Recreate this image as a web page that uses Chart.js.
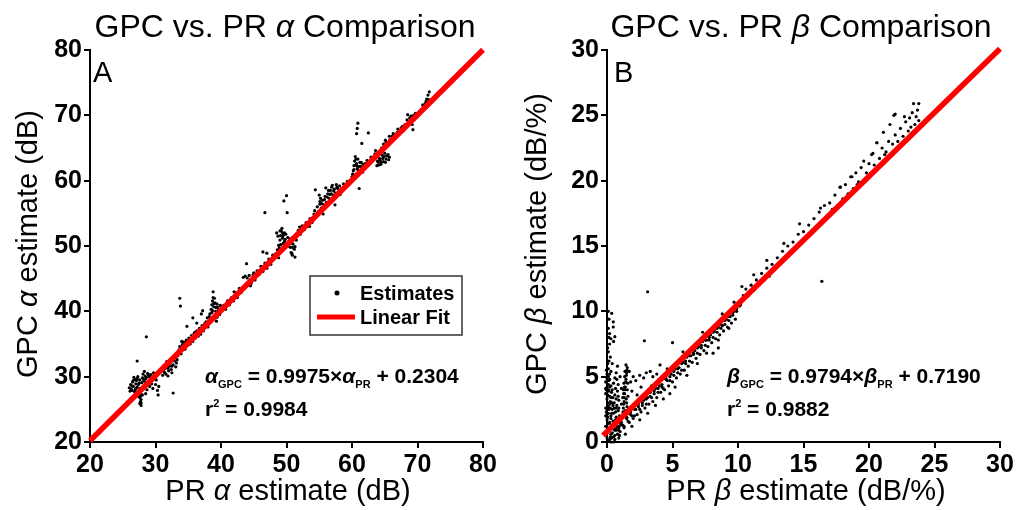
<!DOCTYPE html>
<html>
<head>
<meta charset="utf-8">
<script src="https://cdn.jsdelivr.net/npm/chart.js@4.4.1/dist/chart.umd.min.js"></script>
<style>
  html, body { margin: 0; padding: 0; background: #fff; }
  .panel { position: absolute; top: 0; height: 510px; }
  #panelA { left: 0; width: 509px; }
  #panelB { left: 509px; width: 510px; }
</style>
</head>
<body>
<div class="panel" id="panelA"><canvas id="chartA" width="509" height="510"></canvas></div>
<div class="panel" id="panelB"><canvas id="chartB" width="510" height="510"></canvas></div>
<script>
// Panel A : estimations alpha (PR en x, GPC en y)
const alphaPoints = [
  [26.0,28.3],[26.2,28.8],[26.3,28.1],[26.5,29.2],[26.6,28.5],[26.8,29.6],[26.9,28.0],[27.0,28.9],[27.1,29.4],[27.2,28.4],
  [27.3,30.0],[27.4,27.6],[27.5,29.0],[27.6,28.2],[27.6,26.8],[27.7,26.2],[27.8,25.6],[27.5,27.2],[27.9,27.9],[28.0,29.8],
  [28.1,30.4],[28.2,28.6],[28.3,29.3],[28.4,30.1],[28.5,27.4],[28.6,29.9],[28.7,28.9],[28.8,30.5],[28.9,29.2],[29.0,30.0],
  [29.1,28.5],[29.2,29.6],[29.3,30.3],[29.4,28.9],[29.5,29.4],[29.6,28.2],[29.8,29.7],[29.9,30.2],[30.0,28.8],[30.1,29.5],
  [30.3,27.9],[30.4,27.2],[30.5,28.5],[27.2,32.4],[26.4,27.9],[27.0,27.4],[27.8,26.5],[28.0,28.4],[26.7,29.9],[28.3,30.8],
  [29.7,30.6],[26.1,27.8],[26.4,28.6],[26.6,29.4],[26.8,27.7],[27.0,28.2],[27.2,29.7],[27.3,27.0],[27.4,28.8],[27.6,29.5],
  [27.7,27.4],[27.9,29.1],[28.1,28.1],[28.2,29.5],[28.4,28.8],[28.5,29.7],[28.7,28.0],[28.9,30.3],[29.0,29.0],[29.2,30.0],
  [29.4,29.6],[27.6,25.9],[27.7,27.0],[27.8,26.0],[28.0,27.2],
  [31.1,30.2],[31.3,30.8],[31.5,31.3],[31.6,30.4],[31.8,31.9],[32.0,30.9],[32.1,31.6],[32.3,32.3],[32.4,31.1],[32.6,32.7],
  [32.7,31.8],[32.9,32.4],[33.0,33.0],[33.2,32.1],[33.4,33.2],[31.9,30.1],[32.5,30.6],[33.1,31.5],[32.7,27.5],[31.2,31.6],
  [31.7,32.3],[31.4,30.6],[31.9,31.3],[32.2,32.0],[32.5,31.6],[32.8,33.0],[33.3,32.6],[31.6,31.6],[32.0,31.9],
  [33.5,33.9],[33.7,34.6],[33.9,33.5],[34.1,34.9],[34.3,35.3],[34.5,34.2],[34.7,35.6],[34.9,34.8],[35.1,35.9],[35.3,35.0],
  [35.5,36.3],[35.7,35.4],[35.9,36.6],[36.1,35.9],[36.3,37.0],[36.5,36.2],[36.7,37.4],[36.9,36.5],[37.1,37.8],[37.3,37.0],
  [37.5,38.1],[34.0,35.4],[35.0,35.5],[36.0,36.8],[34.8,37.7],[35.7,39.0],[36.3,38.2],[33.7,42.0],[33.8,40.8],[28.6,36.1],
  [33.6,34.1],[34.2,34.5],[34.6,35.2],[35.2,35.7],[35.6,35.9],[36.2,36.5],[36.8,37.1],
  [37.7,38.4],[37.9,39.0],[38.1,38.1],[38.3,39.6],[38.5,40.3],[38.6,41.0],[38.7,41.6],[38.8,42.1],[38.9,40.7],[39.0,39.4],
  [39.1,41.3],[39.2,40.0],[39.4,39.1],[39.5,40.6],[39.7,39.8],[39.9,40.9],[40.1,40.3],[38.4,38.6],[38.8,43.0],[37.0,39.6],
  [37.2,40.1],[39.3,38.5],[38.0,37.6],[38.2,39.2],[38.5,38.9],[38.7,40.1],[38.9,41.2],[39.0,42.0],[39.2,40.6],[39.4,41.1],
  [39.6,40.2],[39.8,39.5],[38.6,39.8],
  [40.4,40.9],[40.7,40.3],[41.0,41.6],[41.3,41.0],[41.6,42.1],[41.9,41.6],[42.2,42.8],[42.5,42.1],[42.8,43.5],[43.1,42.9],
  [43.4,45.2],[43.7,45.4],[44.0,45.1],[44.3,45.5],[44.6,44.3],[44.9,45.6],[45.2,44.8],[45.5,46.2],[45.8,45.6],[46.1,46.9],
  [46.4,46.1],[46.7,47.4],[47.0,46.6],[47.3,48.0],[47.6,47.2],[47.9,48.6],[43.9,47.3],[46.4,49.1],[47.0,48.9],[46.7,55.1],
  [42.0,43.0],[44.5,43.9],[45.0,45.9],
  [48.3,48.8],[48.5,52.0],[48.6,49.4],[48.8,50.1],[49.0,50.9],[49.1,51.6],[49.2,52.3],[49.3,52.7],[49.4,51.2],[49.5,50.4],
  [49.6,49.6],[49.7,52.0],[49.8,51.0],[50.0,50.3],[50.2,51.3],[50.4,50.7],[50.6,49.8],[50.7,49.0],[50.8,51.2],[50.9,48.6],
  [51.0,50.3],[51.2,49.5],[51.3,48.3],[51.5,50.9],[49.6,56.9],[50.0,57.7],[50.1,55.1],[48.8,48.2],[48.7,51.5],[48.9,49.7],
  [49.1,50.2],[49.2,49.4],[49.4,52.0],[49.5,51.6],[49.7,50.7],[49.9,51.8],[50.1,49.9],[50.3,50.0],[50.5,51.1],[50.7,50.4],
  [50.9,49.8],[51.1,51.0],[51.3,49.9],[51.4,51.5],[49.0,52.3],[50.8,48.9],
  [51.8,52.4],[52.1,51.8],[52.4,53.1],[52.7,52.5],[53.0,53.6],[53.3,53.1],[53.6,54.2],[53.9,53.6],[54.2,54.9],[52.0,52.9],
  [53.5,53.0],
  [54.3,55.4],[54.5,54.6],[54.7,56.0],[54.9,55.3],[55.1,56.4],[55.3,55.8],[55.5,57.0],[55.7,56.3],[55.9,57.6],[56.1,56.7],
  [56.3,58.0],[56.5,57.3],[56.7,58.5],[56.9,59.0],[57.0,59.3],[57.1,57.8],[57.3,58.7],[57.5,58.1],[57.7,59.0],[57.9,58.3],
  [58.1,59.2],[57.4,56.3],[54.4,58.6],[55.0,57.8],[55.1,56.8],[56.0,58.9],[55.6,54.9],[55.8,57.1],[56.2,57.5],[56.4,58.5],
  [56.6,57.9],[56.8,58.0],[57.2,58.4],[57.6,59.4],[57.8,58.8],[55.4,56.5],[55.2,57.3],
  [58.4,58.8],[58.7,59.5],[59.0,59.0],[59.3,59.9],[59.6,59.5],[58.2,57.9],
  [60.0,60.6],[60.2,61.5],[60.3,62.3],[60.4,63.0],[60.5,63.7],[60.6,61.0],[60.7,62.6],[60.8,61.8],[60.9,63.3],[61.0,60.9],
  [61.1,62.2],[61.2,61.5],[61.4,62.8],[61.5,61.9],[61.7,62.5],[60.9,68.8],[60.8,68.0],[60.7,67.2],[62.5,67.3],[61.5,65.7],
  [61.1,58.8],[60.1,61.0],[60.3,61.7],[60.5,62.4],[60.6,63.3],[60.8,62.2],[61.0,61.6],[61.2,62.8],[61.3,62.2],[61.6,61.3],
  [60.4,60.8],
  [62.0,62.6],[62.3,63.1],[62.6,62.9],[62.9,63.6],[63.2,63.2],[63.5,64.1],[63.8,62.3],[64.0,62.8],[64.2,63.4],[64.4,62.5],
  [64.6,63.9],[64.8,62.9],[65.0,64.2],[65.2,63.3],[65.5,64.0],[65.7,63.6],[64.8,65.6],[65.1,66.2],[65.4,65.4],[65.7,66.8],
  [66.0,66.1],[66.3,67.2],[66.6,66.6],[66.9,67.4],[64.5,65.0],[63.6,64.6],[63.9,63.0],[64.1,62.4],[64.3,63.1],[64.5,62.8],
  [64.7,63.4],[64.9,63.7],[65.1,62.8],[65.3,63.8],[65.6,63.2],[63.7,63.6],[65.2,65.9],[65.8,66.3],[66.1,66.8],
  [67.2,67.5],[67.5,68.1],[67.8,67.6],[68.1,68.6],[68.4,69.3],[68.7,68.9],[69.0,69.9],[69.3,67.8],[69.5,69.4],[69.7,70.3],
  [70.0,69.8],[70.3,70.6],[70.6,70.9],[70.9,71.3],[71.2,71.8],[71.4,72.5],[71.6,73.1],[71.8,73.6],[71.5,71.3],[68.5,70.1],
  [69.2,68.6],[67.0,67.9],[67.7,68.3],[68.2,68.2],[68.8,69.6],[69.4,70.0],[70.2,70.2],[70.8,71.6],[71.3,72.1],[71.7,72.4]
];
const alphaFit = [[20, 20.18], [80, 80.03]];

// Panel B : estimations beta
const betaPoints = [
  [-0.3,0.6],[-0.2,0.5],[-0.1,1.2],[0.0,0.3],[0.1,0.9],[0.2,1.5],[0.3,0.6],[0.4,1.1],[-0.2,1.9],[-0.1,2.6],
  [0.0,1.7],[0.1,2.2],[0.2,2.9],[0.3,2.0],[0.4,2.5],[-0.2,3.1],[-0.1,3.7],[0.0,3.3],[0.1,4.0],[0.2,3.5],
  [0.3,4.3],[0.4,3.0],[-0.1,4.6],[0.0,4.9],[0.1,4.4],[0.2,4.8],[0.0,2.1],[0.1,1.4],[0.2,0.2],[0.3,1.8],
  [0.35,3.8],[-0.15,0.9],[-0.05,2.3],[0.05,3.0],[0.15,3.9],[0.25,2.6],[0.35,1.3],[0.0,0.8],[0.1,2.7],[0.2,4.2],
  [0.3,3.4],[-0.1,4.1],[0.0,5.2],[0.1,5.0],[0.05,0.1],[0.25,0.4],[0.4,0.7],[0.45,1.6],[0.5,2.2],[0.5,0.4],
  [0.55,1.0],[-0.3,2.4],[-0.3,3.6],[-0.25,1.4],[0.3,0.0],[0.6,0.2],[0.5,0.0],
  [-0.25,0.2],[-0.2,1.0],[-0.15,1.6],[-0.1,2.0],[-0.25,2.8],[-0.2,3.3],[-0.15,4.3],[-0.05,4.0],[0.05,1.9],[0.15,2.5],
  [0.25,3.1],[0.35,2.2],[0.45,2.8],[0.05,3.6],[0.15,4.7],[0.25,1.0],[0.35,0.3],[0.45,3.4],[0.55,2.6],[0.65,1.7],
  [0.7,2.6],[0.75,1.2],[0.85,3.5],[0.95,0.5],[0.4,4.0],[0.6,4.9],[-0.05,5.5],[0.05,6.0],
  [0.6,0.5],[0.6,1.4],[0.65,2.3],[0.7,0.9],[0.7,1.9],[0.75,2.8],[0.8,0.6],[0.8,1.5],[0.85,2.4],[0.9,1.1],
  [0.9,3.2],[0.95,2.0],[1.0,0.8],[1.0,1.7],[0.55,3.0],[0.6,3.6],[0.65,4.1],[0.7,3.3],[0.8,3.9],[0.85,4.4],
  [0.75,4.8],[0.5,4.5],[0.9,2.6],[1.05,1.3],
  [1.2,2.0],[1.25,2.6],[1.3,3.1],[1.35,3.7],[1.4,4.2],[1.45,4.8],[1.5,5.3],[1.55,5.7],[1.2,3.4],[1.3,4.5],
  [1.4,2.4],[1.5,3.0],[1.55,4.0],[1.45,5.9],[1.35,5.0],[1.25,4.0],[1.6,2.2],[1.6,3.5],[1.1,2.9],[1.5,1.9],
  [1.22,2.3],[1.28,2.9],[1.32,3.4],[1.38,4.0],[1.42,4.6],[1.48,5.1],[1.52,5.5],[1.27,3.7],[1.33,4.2],[1.47,3.3],
  [1.53,2.7],[1.58,4.5],[1.43,2.1],[1.37,5.4],
  [0.1,5.6],[0.15,6.2],[0.1,6.9],[0.2,7.5],[0.15,8.0],[0.2,8.3],[0.1,8.7],[0.15,9.4],[0.1,10.0],[0.36,9.85],
  [0.48,9.2],[0.48,8.8],[0.6,8.06],[0.5,7.7],[0.3,5.4],[0.25,6.5],[0.05,7.2],[0.3,7.9],[0.4,6.0],[0.2,5.2],
  [0.7,5.3],[1.0,5.0],[1.8,4.6],[2.0,5.0],[2.2,4.7],[2.5,5.1],[2.8,4.9],[3.0,5.3],[3.3,5.4],[3.5,5.0],
  [3.8,5.2],[4.05,5.9],[2.3,3.6],[1.9,3.9],[2.6,4.2],[1.7,5.4],[3.1,11.5],[2.85,7.75],[5.0,7.6],[8.1,6.8],
  [8.5,7.2],[9.3,8.7],[4.8,3.7],[0.8,5.8],[1.1,4.1],
  [0.6,0.9],[0.9,1.2],[1.1,1.5],[1.3,1.1],[1.5,1.8],[1.7,1.5],[1.8,2.1],[2.0,1.8],[2.1,2.5],[2.3,2.1],
  [2.4,2.7],[2.6,2.3],[2.7,3.0],[2.9,2.6],[3.0,3.3],[3.2,2.9],[3.3,3.5],[3.5,3.1],[3.6,3.9],[3.8,3.4],
  [3.9,4.1],[4.1,3.8],[4.2,4.4],[4.4,4.0],[4.5,4.8],[4.7,4.3],[4.8,5.0],[5.0,4.6],[5.1,5.4],[5.3,4.9],
  [5.4,5.6],[5.6,5.2],[5.7,6.0],[5.9,5.5],[6.0,6.2],[6.2,5.8],[6.3,6.6],[6.5,6.1],[6.6,6.8],[6.8,6.4],
  [6.9,7.2],[7.1,6.7],[7.2,7.4],[7.4,7.0],[7.5,7.8],[7.7,7.3],[7.8,8.0],[8.0,7.6],[8.1,8.4],[8.3,7.9],
  [8.4,8.7],[8.6,8.2],[8.7,9.0],[8.9,8.5],[9.0,9.3],[9.2,8.8],[9.3,9.6],[9.5,9.1],[9.6,9.9],[9.8,9.4],
  [9.9,10.2],
  [0.7,1.0],[0.9,0.9],[1.0,1.5],[1.2,1.3],[1.3,1.2],[1.5,1.9],[1.6,1.6],[1.8,2.3],[1.9,2.0],[2.1,2.0],
  [2.2,2.5],[2.4,2.9],[2.5,2.5],[2.7,2.8],[2.8,3.2],[3.0,2.9],[3.1,3.4],[3.3,3.8],[3.4,3.4],[3.6,3.7],
  [3.7,4.1],[3.9,3.8],[4.0,4.3],[4.2,4.2],[4.3,4.1],[4.5,4.9],[4.6,4.7],[4.8,4.7],[4.9,5.2],[5.1,5.1],
  [5.2,5.6],[5.4,5.3],[5.5,5.7],[5.7,5.5],[5.8,6.1],[6.0,6.0],[6.1,6.5],[6.3,6.2],[6.4,6.6],[6.6,6.7],
  [6.7,7.0],[6.9,6.8],[7.0,7.3],[7.2,7.2],[7.3,7.7],[7.5,7.4],[7.6,7.8],[7.8,7.8],[7.9,8.2],[8.1,8.0],
  [8.2,8.5],[8.4,8.4],[8.5,8.8],[8.7,8.7],[8.8,8.9],[9.0,9.0],[9.1,9.4],[9.3,9.3],[9.4,9.6],[9.6,9.7],
  [9.7,10.0],[9.9,10.0],[10.1,10.4],
  [1.9,1.2],[2.5,1.7],[3.1,2.2],[3.7,2.8],[4.3,3.3],[5.2,4.2],[6.1,5.1],[6.9,6.0],[7.6,6.8],[8.5,7.8],
  [2.2,3.0],[3.4,4.3],[4.6,5.6],[5.8,6.9],[7.3,8.4],[8.8,9.8],[9.7,10.7],[0.9,0.3],[1.4,0.6],[1.2,1.9],
  [10.2,10.5],[10.4,11.2],[10.6,11.7],[10.8,11.2],[11.0,12.0],[11.2,11.6],[11.4,12.4],[11.6,12.0],[11.8,12.9],[12.0,12.4],
  [12.2,13.3],[12.4,12.7],[12.6,13.6],[12.8,13.2],[13.0,14.1],[13.2,13.6],[13.4,14.6],[13.6,14.0],[13.8,15.0],[14.0,14.5],
  [14.2,15.3],[14.4,14.9],[14.6,15.9],[14.8,15.3],[15.0,16.1],[15.2,15.7],[15.4,16.6],[15.6,16.1],[15.8,17.1],[16.0,16.5],
  [16.2,17.6],[16.4,16.9],[16.6,18.1],[16.8,17.3],[17.0,18.3],[17.2,17.8],[17.4,18.9],[17.6,18.1],[17.8,19.5],[18.0,18.6],
  [18.2,19.7],[18.4,19.0],[18.6,20.3],[18.8,19.4],[19.0,20.6],[19.2,19.9],[19.4,21.0],[19.6,21.5],[19.8,20.6],[20.0,21.3],
  [20.2,22.0],[20.4,21.2],[20.6,22.9],[20.8,21.7],[21.0,22.5],[21.1,23.7],[21.3,22.2],[21.5,23.0],[21.6,24.3],[21.8,22.8],
  [21.9,25.0],[22.0,23.5],[22.2,23.0],[22.4,24.0],[22.6,23.4],[22.8,24.5],[23.0,23.8],[23.1,24.8],[23.3,25.2],[23.4,25.9],
  [23.5,24.3],[23.6,24.9],[23.7,25.4],[23.8,24.6],[22.0,25.1],[16.4,12.3],[10.3,11.9],[11.2,12.8],[12.2,13.9],[13.5,15.2],
  [14.7,16.7],[16.3,17.9],[17.8,19.5],[18.7,20.3],[20.3,22.1],[20.6,22.9],[23.8,25.9],[22.7,24.9],[23.2,24.1],[21.2,22.0],
  [19.1,19.7],[15.1,15.6],[12.9,13.4]
];
const betaFit = [[-0.3, 0.5], [30, 30.1]];

const FONT = '"Liberation Sans", Arial, Helvetica, sans-serif';

// Dessine une suite de morceaux de texte (italique, indice, exposant)
function drawRuns(ctx, x, y, runs, align) {
    let total = 0;
    runs.forEach(r => {
        ctx.font = r.f + ' ' + FONT;
        r.w = ctx.measureText(r.t).width;
        total += r.w;
    });
    let cx = align === 'center' ? x - total / 2 : x;
    ctx.textAlign = 'left';
    ctx.textBaseline = 'alphabetic';
    ctx.fillStyle = '#000';
    runs.forEach(r => {
        ctx.font = r.f + ' ' + FONT;
        ctx.fillText(r.t, cx, y + (r.dy || 0));
        cx += r.w;
    });
}

function textPlugin(cfg) {
    return {
        id: 'texts',
        afterDraw(chart) {
            const ctx = chart.ctx;
            ctx.save();
            drawRuns(ctx, cfg.titleX, 37, cfg.title, 'center');
            drawRuns(ctx, cfg.letterX, 82, [{ t: cfg.letter, f: '29px' }], 'left');
            drawRuns(ctx, cfg.xTitleX, 500, cfg.xTitle, 'center');
            ctx.save();
            ctx.translate(37, 244);
            ctx.rotate(-Math.PI / 2);
            drawRuns(ctx, 0, 0, cfg.yTitle, 'center');
            ctx.restore();
            drawRuns(ctx, cfg.eqX, 383, cfg.eq, 'left');
            drawRuns(ctx, cfg.eqX, 416, cfg.r2, 'left');
            if (cfg.legend) {
                ctx.strokeStyle = '#333';
                ctx.lineWidth = 1.5;
                ctx.strokeRect(310, 276, 152, 59);
                ctx.fillStyle = '#000';
                ctx.beginPath();
                ctx.arc(337, 293, 2.5, 0, Math.PI * 2);
                ctx.fill();
                ctx.strokeStyle = '#ff0000';
                ctx.lineWidth = 5;
                ctx.beginPath();
                ctx.moveTo(317, 317);
                ctx.lineTo(355, 317);
                ctx.stroke();
                drawRuns(ctx, 360, 300, [{ t: 'Estimates', f: 'bold 20px' }], 'left');
                drawRuns(ctx, 360, 324, [{ t: 'Linear Fit', f: 'bold 20px' }], 'left');
            }
            ctx.restore();
        }
    };
}

function axisConfig(min, max, step, fit) {
    return {
        type: 'linear',
        min: min,
        max: max,
        ticks: {
            stepSize: step,
            color: '#000',
            padding: 2,
            maxRotation: 0,
            autoSkip: false,
            font: { family: FONT, size: 25, weight: 'bold' }
        },
        grid: { drawOnChartArea: false, drawTicks: true, tickLength: 6, color: '#000', lineWidth: 2 },
        border: { display: true, color: '#000', width: 2 },
        afterFit: fit
    };
}

function createPanel(elementId, points, fit, sc, yWidth, rightPad, texts) {
    const ctx = document.getElementById(elementId).getContext('2d');
    return new Chart(ctx, {
        type: 'scatter',
        data: {
            datasets: [
                {
                    label: 'Linear Fit',
                    data: fit.map(p => ({ x: p[0], y: p[1] })),
                    showLine: true,
                    borderColor: '#ff0000',
                    borderWidth: 5.5,
                    pointRadius: 0,
                    pointHoverRadius: 0,
                    clip: false,
                    order: 0
                },
                {
                    label: 'Estimates',
                    data: points.map(p => ({ x: p[0], y: p[1] })),
                    backgroundColor: '#000',
                    borderWidth: 0,
                    pointRadius: 1.6,
                    pointHoverRadius: 1.6,
                    clip: { left: 8, top: 0, right: 0, bottom: 4 },
                    order: 1
                }
            ]
        },
        options: {
            responsive: false,
            animation: false,
            layout: { padding: { top: 50, right: rightPad, left: 0, bottom: 0 } },
            plugins: { legend: { display: false }, tooltip: { enabled: false } },
            scales: {
                x: axisConfig(sc.min, sc.max, sc.step, s => { s.height = 68; }),
                y: axisConfig(sc.min, sc.max, sc.step, s => { s.width = yWidth; })
            }
        },
        plugins: [textPlugin(texts)]
    });
}

createPanel('chartA', alphaPoints, alphaFit, { min: 20, max: 80, step: 10 }, 90, 26, {
    titleX: 285,
    title: [{ t: 'GPC vs. PR ', f: '32px' }, { t: 'α', f: 'italic 32px' }, { t: ' Comparison', f: '32px' }],
    letter: 'A', letterX: 93,
    xTitleX: 288,
    xTitle: [{ t: 'PR ', f: '29px' }, { t: 'α', f: 'italic 29px' }, { t: ' estimate (dB)', f: '29px' }],
    yTitle: [{ t: 'GPC ', f: '29px' }, { t: 'α', f: 'italic 29px' }, { t: ' estimate (dB)', f: '29px' }],
    eqX: 205,
    eq: [{ t: 'α', f: 'italic bold 21px' }, { t: 'GPC', f: 'bold 11px', dy: 5 }, { t: ' = 0.9975×', f: 'bold 21px' },
         { t: 'α', f: 'italic bold 21px' }, { t: 'PR', f: 'bold 11px', dy: 5 }, { t: ' + 0.2304', f: 'bold 21px' }],
    r2: [{ t: 'r', f: 'bold 21px' }, { t: '2', f: 'bold 11px', dy: -9 }, { t: ' = 0.9984', f: 'bold 21px' }],
    legend: true
});

createPanel('chartB', betaPoints, betaFit, { min: 0, max: 30, step: 5 }, 98, 19, {
    titleX: 292,
    title: [{ t: 'GPC vs. PR ', f: '32px' }, { t: 'β', f: 'italic 32px' }, { t: ' Comparison', f: '32px' }],
    letter: 'B', letterX: 105,
    xTitleX: 297,
    xTitle: [{ t: 'PR ', f: '29px' }, { t: 'β', f: 'italic 29px' }, { t: ' estimate (dB/%)', f: '29px' }],
    yTitle: [{ t: 'GPC ', f: '29px' }, { t: 'β', f: 'italic 29px' }, { t: ' estimate (dB/%)', f: '29px' }],
    eqX: 218,
    eq: [{ t: 'β', f: 'italic bold 21px' }, { t: 'GPC', f: 'bold 11px', dy: 5 }, { t: ' = 0.9794×', f: 'bold 21px' },
         { t: 'β', f: 'italic bold 21px' }, { t: 'PR', f: 'bold 11px', dy: 5 }, { t: ' + 0.7190', f: 'bold 21px' }],
    r2: [{ t: 'r', f: 'bold 21px' }, { t: '2', f: 'bold 11px', dy: -9 }, { t: ' = 0.9882', f: 'bold 21px' }],
    legend: false
});
</script>
</body>
</html>
